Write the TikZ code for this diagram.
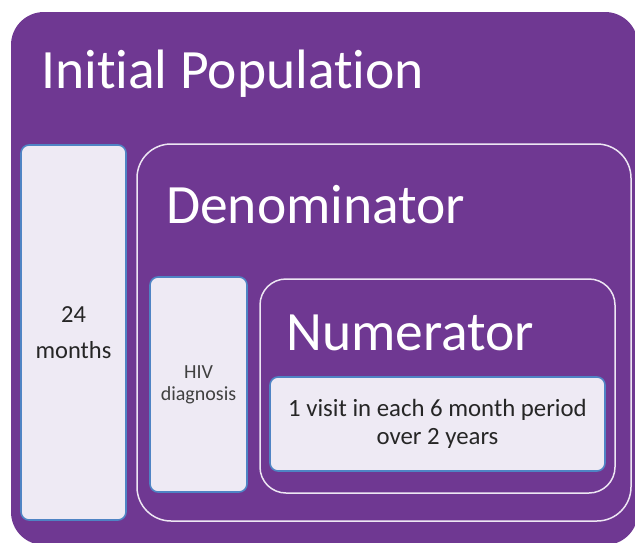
\documentclass[tikz,border=0pt]{standalone}
\usepackage{fontspec}
\setmainfont{Carlito}[Ligatures=NoCommon]
\usepackage{tikz}

\definecolor{popviolet}{HTML}{6F3892}
\definecolor{boxfill}{HTML}{EEEAF4}
\definecolor{boxedge}{HTML}{4F84C4}
\definecolor{frameline}{HTML}{EDE6F3}

\begin{document}
\begin{tikzpicture}
  [x=1pt,y=-1pt,
   lightbox/.style={draw=boxedge,line width=1.6pt,fill=boxfill,rounded corners=8pt,
     align=center,inner sep=0pt,text=black!85},
   frame/.style={draw=frameline,line width=1.5pt,inner sep=0pt},
   title/.style={anchor=base west,inner sep=0pt,text=white,font=\fontsize{55.5}{60}\selectfont}]
  \useasboundingbox (0,0) rectangle (635,542);

  \node [fill=popviolet,rounded corners=33pt,inner sep=0pt,
    minimum width=627pt,minimum height=533pt] (pop) at (324.5,278.5) {};
  \node [title] (poptitle) at (41,88) {Initial Population};

  \node [lightbox,minimum width=105pt,minimum height=375pt,
    font=\fontsize{24.5}{36}\selectfont] (months) at (73.5,332.5) {24\\months};

  \node [frame,rounded corners=34pt,minimum width=494pt,minimum height=377pt] (denom) at (384,332.5) {};
  \node [title] (denomtitle) at (166,223) {Denominator};

  \node [lightbox,minimum width=97pt,minimum height=215pt,text=black!75,
    font=\fontsize{20}{22}\selectfont] (hiv) at (198.5,384.5) {HIV\\diagnosis};

  \node [frame,rounded corners=26pt,minimum width=355pt,minimum height=214pt] (numer) at (437.5,386) {};
  \node [title] (numertitle) at (286,350) {Numerator};

  \node [lightbox,minimum width=335pt,minimum height=94pt,
    font=\fontsize{24.8}{28}\selectfont] (visit) at (437.5,424) {1 visit in each 6 month period\\over 2 years};

\end{tikzpicture}
\end{document}
